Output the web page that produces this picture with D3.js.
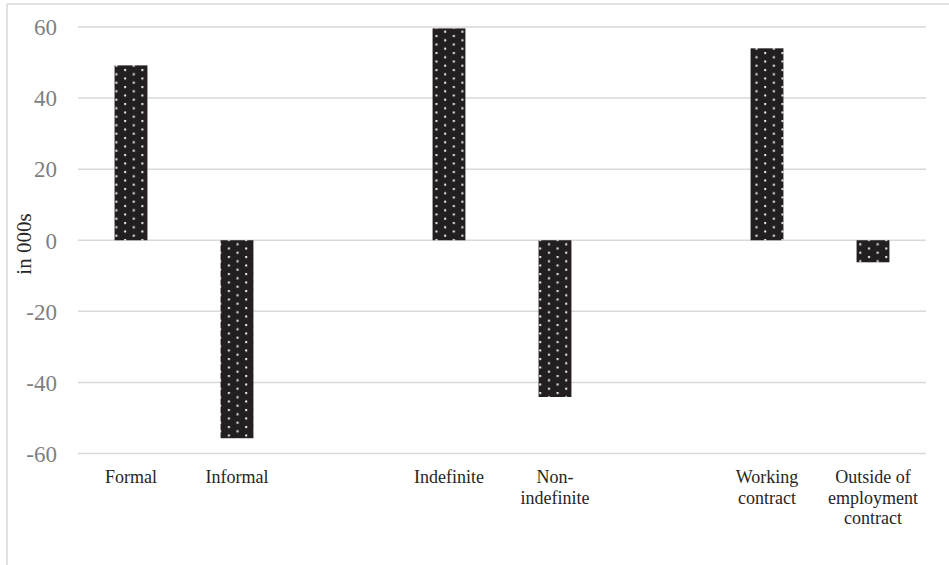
<!DOCTYPE html>
<html>
<head>
<meta charset="utf-8">
<script src="https://cdn.jsdelivr.net/npm/d3@7"></script>
<style>
  html, body { margin: 0; padding: 0; background: #fff; }
  svg { display: block; }
  text { font-family: "Liberation Serif", "Times New Roman", serif; }
</style>
</head>
<body>
<svg id="chart" width="949" height="565"></svg>
<script>
// ---- data ----
const categories = ["Formal", "Informal", "", "Indefinite", "Non-\nindefinite", "", "Working\ncontract", "Outside of\nemployment\ncontract"];
const values = [49.2, -55.7, null, 59.6, -44.1, null, 54.0, -6.2];
const yTicks = [-60, -40, -20, 0, 20, 40, 60];
const yTitle = "in 000s";

// ---- layout ----
const W = 949, H = 565;
const plot = { left: 78, right: 926, top: 27, bottom: 453.5 };

const svg = d3.select("#chart");

// pattern
const defs = svg.append("defs");
const pat = defs.append("pattern")
  .attr("id", "dots")
  .attr("patternUnits", "userSpaceOnUse")
  .attr("width", 17.3).attr("height", 8.5);
pat.append("rect").attr("width", 17.3).attr("height", 8.5).attr("fill", "#231f20");
pat.append("rect").attr("x", 3).attr("y", 1).attr("width", 2).attr("height", 2).attr("fill", "#f4f4f4");
pat.append("rect").attr("x", 11.65).attr("y", 5.25).attr("width", 2).attr("height", 2).attr("fill", "#f4f4f4");

// chart border (left & top visible)
svg.append("line").attr("x1", 7).attr("x2", 7).attr("y1", 4).attr("y2", H)
  .attr("stroke", "#d9d9d9").attr("stroke-width", 1.5);
svg.append("line").attr("x1", 7).attr("x2", W).attr("y1", 4).attr("y2", 4)
  .attr("stroke", "#d9d9d9").attr("stroke-width", 1.5);

const x = d3.scaleBand()
  .domain(d3.range(categories.length))
  .range([plot.left, plot.right])
  .paddingInner(0.69)
  .paddingOuter(0.345);

const y = d3.scaleLinear().domain([-60, 60]).range([plot.bottom, plot.top]);

// gridlines
svg.append("g").selectAll("line").data(yTicks).join("line")
  .attr("x1", plot.left).attr("x2", plot.right)
  .attr("y1", d => y(d)).attr("y2", d => y(d))
  .attr("stroke", "#d9d9d9").attr("stroke-width", 1.5);

// y axis labels via d3 axis
const yAxis = svg.append("g")
  .attr("transform", `translate(${plot.left - 21},0)`)
  .call(d3.axisLeft(y).tickValues(yTicks).tickSize(0).tickPadding(0).tickFormat(d => String(d)));
yAxis.select(".domain").remove();
yAxis.selectAll("text")
  .attr("font-family", "'Liberation Serif', 'Times New Roman', serif")
  .attr("font-size", 23)
  .attr("fill", "#7f7f7f")
  .attr("dy", "0.34em");

// y title
svg.append("text")
  .attr("transform", `translate(31,244) rotate(-90)`)
  .attr("text-anchor", "middle")
  .attr("font-size", 21)
  .attr("fill", "#262626")
  .text(yTitle);

// bars
const barData = values.map((v, i) => ({ i, v })).filter(d => d.v !== null);
svg.append("g").selectAll("rect").data(barData).join("rect")
  .attr("x", d => x(d.i))
  .attr("width", x.bandwidth())
  .attr("y", d => y(Math.max(0, d.v)))
  .attr("height", d => Math.abs(y(d.v) - y(0)))
  .attr("fill", "url(#dots)");

// category labels
const labels = svg.append("g");
categories.forEach((c, i) => {
  if (!c) return;
  const t = labels.append("text")
    .attr("text-anchor", "middle")
    .attr("font-size", 18)
    .attr("fill", "#262626");
  c.split("\n").forEach((line, k) => {
    t.append("tspan")
      .attr("x", x(i) + x.bandwidth() / 2)
      .attr("y", 483 + k * 20.5)
      .text(line);
  });
});
</script>
</body>
</html>
